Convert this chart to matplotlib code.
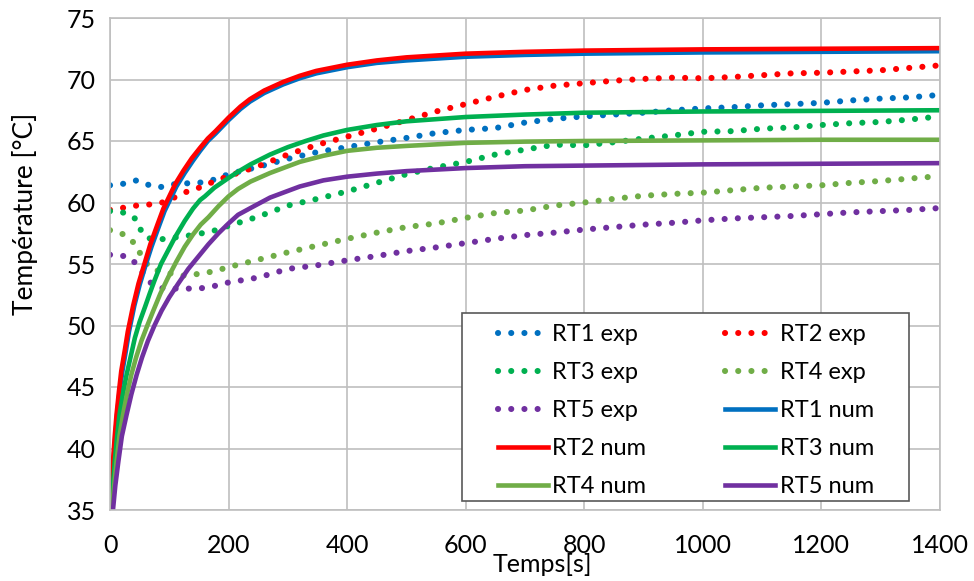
import matplotlib
matplotlib.use('Agg')
import matplotlib.pyplot as plt
from matplotlib.patches import Rectangle

plt.rcParams['font.family'] = ['Lato', 'DejaVu Sans']

# 实验数据 (exp)
t_exp = [0, 15, 30, 45, 55, 70, 85, 100, 125, 150, 175, 200, 250, 300, 350, 400,
         450, 500, 550, 600, 650, 700, 750, 800, 850, 900, 950, 1000, 1050, 1100,
         1150, 1200, 1250, 1300, 1350, 1400]
rt1_exp = [61.4, 61.45, 61.6, 61.8, 61.6, 61.35, 61.25, 61.45, 61.55, 61.6, 61.85, 62.3,
           62.9, 63.55, 64.1, 64.5, 64.9, 65.25, 65.65, 65.9, 66.05, 66.5, 66.8, 67.0,
           67.15, 67.3, 67.5, 67.65, 67.75, 67.9, 68.0, 68.1, 68.3, 68.45, 68.55, 68.75]
rt2_exp = [59.4, 59.5, 59.65, 59.75, 59.8, 59.85, 59.95, 60.2, 60.8, 61.2, 61.7, 62.15,
           62.95, 63.9, 64.7, 65.35, 66.0, 66.7, 67.4, 68.0, 68.6, 69.15, 69.5, 69.7,
           69.9, 70.05, 70.15, 70.1, 70.2, 70.35, 70.5, 70.55, 70.65, 70.75, 70.95, 71.15]
rt3_exp = [59.3, 59.25, 59.1, 58.6, 57.4, 57.0, 57.0, 57.1, 57.25, 57.45, 57.7, 58.1,
           58.85, 59.75, 60.3, 60.9, 61.6, 62.3, 62.85, 63.3, 63.9, 64.3, 64.7, 64.65,
           64.9, 65.2, 65.45, 65.75, 65.8, 66.0, 66.1, 66.3, 66.45, 66.55, 66.75, 67.0]
rt4_exp = [57.75, 57.6, 57.2, 56.5, 55.4, 54.6, 54.4, 54.25, 54.05, 54.2, 54.4, 54.75,
           55.35, 55.95, 56.5, 57.05, 57.55, 58.0, 58.3, 58.75, 59.15, 59.35, 59.75, 60.0,
           60.3, 60.55, 60.7, 60.8, 61.0, 61.2, 61.3, 61.4, 61.6, 61.75, 61.95, 62.15]
rt5_exp = [55.75, 55.7, 55.6, 55.0, 54.3, 53.4, 53.05, 53.0, 53.0, 53.0, 53.2, 53.5,
           53.9, 54.6, 54.9, 55.3, 55.65, 56.05, 56.35, 56.7, 57.05, 57.35, 57.55, 57.8,
           58.0, 58.2, 58.35, 58.55, 58.7, 58.8, 58.9, 59.05, 59.2, 59.3, 59.4, 59.55]

# 数值模拟 (num)
t_rt1 = [1, 4, 6, 9, 12, 16, 21, 27, 32, 41, 50, 60, 70, 82, 92, 102, 112, 126, 140, 152,
         165, 178, 200, 220, 236, 260, 292, 320, 348, 400, 450, 500, 600, 700, 800, 1000,
         1200, 1400]
rt1_num = [35, 37, 38.9, 41, 42.75, 44.6, 46.3, 48.0, 49.5, 51.6, 53.3, 54.9, 56.4, 58.0,
           59.3, 60.3, 61.3, 62.4, 63.4, 64.2, 65.0, 65.6, 66.7, 67.6, 68.2, 68.9, 69.6,
           70.1, 70.5, 71.0, 71.35, 71.55, 71.85, 72.0, 72.1, 72.2, 72.25, 72.3]
t_rt2 = [1, 3, 5, 8, 11, 15, 19, 25, 30, 39, 48, 58, 68, 80, 90, 100, 110, 124, 138, 152,
         165, 178, 200, 220, 236, 260, 292, 320, 348, 400, 450, 500, 600, 700, 800, 1000,
         1200, 1400]
rt2_num = [35, 37, 38.9, 41, 42.75, 44.6, 46.3, 48.0, 49.5, 51.6, 53.4, 55.0, 56.6, 58.2,
           59.5, 60.5, 61.5, 62.6, 63.6, 64.45, 65.2, 65.8, 66.9, 67.8, 68.4, 69.1, 69.8,
           70.3, 70.7, 71.2, 71.55, 71.8, 72.1, 72.25, 72.35, 72.45, 72.5, 72.55]
t_rt3 = [2, 5, 8, 12, 16, 22, 28, 35, 42, 50, 59, 67, 75, 86, 98, 110, 126, 140, 152, 160,
         176, 200, 216, 237, 270, 300, 330, 360, 400, 450, 500, 600, 700, 800, 1000, 1200,
         1400]
rt3_num = [35, 37, 38.9, 41, 42.75, 44.5, 46.0, 47.5, 49.0, 50.3, 51.5, 52.6, 53.65, 55.0,
           56.1, 57.2, 58.5, 59.5, 60.2, 60.5, 61.2, 62.0, 62.5, 63.1, 63.9, 64.5, 65.0,
           65.45, 65.9, 66.3, 66.6, 66.95, 67.15, 67.3, 67.4, 67.45, 67.5]
t_rt4 = [3, 7, 11, 16, 22, 29, 36, 44, 53, 63, 73, 85, 98, 112, 126, 140, 153, 166, 183,
         200, 216, 237, 270, 320, 360, 400, 450, 500, 600, 700, 800, 1000, 1200, 1400]
rt4_num = [35, 37, 38.9, 41, 42.75, 44.5, 46.0, 47.4, 48.75, 50.0, 51.2, 52.6, 53.9, 55.2,
           56.4, 57.4, 58.2, 58.8, 59.7, 60.5, 61.1, 61.7, 62.4, 63.3, 63.8, 64.2, 64.45,
           64.6, 64.85, 64.95, 65.0, 65.05, 65.1, 65.1]
t_rt5 = [5, 9, 14, 20, 28, 36, 45, 54, 64, 75, 87, 100, 115, 132, 149, 166, 183, 200, 216,
         237, 270, 320, 360, 400, 450, 500, 600, 700, 800, 1000, 1200, 1400]
rt5_num = [35, 37, 38.9, 41, 42.75, 44.4, 46.0, 47.4, 48.75, 50.0, 51.2, 52.3, 53.4, 54.6,
           55.6, 56.6, 57.5, 58.3, 59.0, 59.55, 60.4, 61.3, 61.8, 62.1, 62.35, 62.55, 62.8,
           62.95, 63.0, 63.1, 63.15, 63.2]

colors = ['#0070C0', '#FF0000', '#00B050', '#70AD47', '#7030A0']
exp_series = [rt1_exp, rt2_exp, rt3_exp, rt4_exp, rt5_exp]
num_series = [(t_rt1, rt1_num), (t_rt2, rt2_num), (t_rt3, rt3_num),
              (t_rt4, rt4_num), (t_rt5, rt5_num)]

W, H = 974, 581
fig = plt.figure(figsize=(W / 100, H / 100), dpi=100)
ax = fig.add_axes([110 / W, 1 - 510 / H, 830 / W, 492 / H])

handles = []
for i, ys in enumerate(exp_series):
    h, = ax.plot(t_exp, ys, color=colors[i], lw=4.4, linestyle=(0, (0.01, 2.15)),
                 dash_capstyle='round', label=f'RT{i + 1} exp')
    handles.append(h)
for i, (ts, ys) in enumerate(num_series):
    h, = ax.plot(ts, ys, color=colors[i], lw=3.3, solid_joinstyle='round',
                 label=f'RT{i + 1} num')
    handles.append(h)

ax.set_xlim(0, 1400)
ax.set_ylim(35, 75)
ax.set_xticks(range(0, 1401, 200))
ax.set_yticks(range(35, 76, 5))
ax.grid(True, color='#BFBFBF', lw=1.2)
ax.set_axisbelow(True)
for s in ax.spines.values():
    s.set_color('#BFBFBF')
    s.set_linewidth(1.2)
ax.tick_params(axis='both', length=0, colors='black')
ax.tick_params(axis='y', labelsize=18, pad=10)
ax.tick_params(axis='x', labelsize=18, pad=17)

fig.text(25 / W, 1 - 214 / H, 'Température [°C]', rotation=90, fontsize=19,
         ha='center', va='center')
fig.text(542 / W, 1 - 564 / H, 'Temps[s]', fontsize=18, ha='center', va='center')

# 图例 (行优先排列)
order = [0, 2, 4, 6, 8, 1, 3, 5, 7, 9]
fig.patches.append(Rectangle((462 / W, 1 - 501 / H), 447 / W, 188 / H,
                             transform=fig.transFigure, facecolor='white',
                             edgecolor='#595959', lw=1.2, zorder=5))
leg = fig.legend([handles[k] for k in order], [handles[k].get_label() for k in order],
                 ncol=2, loc='upper left', bbox_to_anchor=(498 / W, 1 - 324 / H),
                 frameon=False, fontsize=17, handlelength=2.1, handletextpad=0.2,
                 columnspacing=3.35, labelspacing=0.72, borderpad=0, borderaxespad=0)
leg.set_zorder(6)

fig.savefig('out.png', dpi=100)
